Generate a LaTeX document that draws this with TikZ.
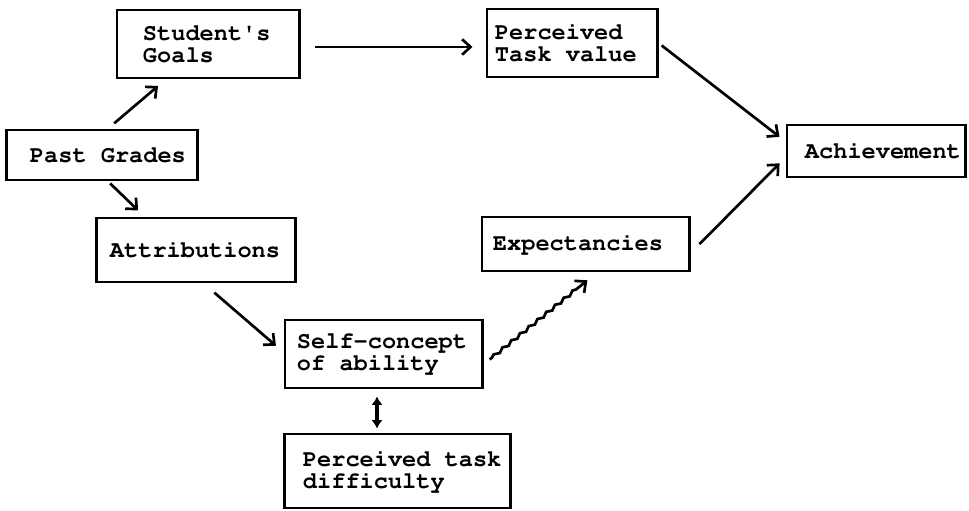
\documentclass[tikz,border=0pt]{standalone}
\usepackage[T1]{fontenc}
\usepackage{fontspec}
\usetikzlibrary{arrows.meta,calc,decorations.pathmorphing}

\newcommand\crfont{\fontencoding{T1}\fontfamily{pcr}\fontseries{b}\fontsize{16.8}{15.5}\selectfont}
\newcommand\nbs{\nobreak\hspace{0.6em}}

\begin{document}
\begin{tikzpicture}[x=0.025cm,y=-0.025cm,
  box/.style={draw,line width=2.1pt,align=flush left,inner ysep=0pt,font=\crfont},
  arr/.style={line width=1.9pt,-{Straight Barb[length=6pt,width=11pt]}},
  dbl/.style={line width=2.8pt,{Latex[length=6pt,width=8pt]}-{Latex[length=6pt,width=8pt]}}]

\useasboundingbox (0,0) rectangle (969,511);

\node[box,text width=3.25cm,inner xsep=0.65cm,minimum height=1.7cm] (goals) at (208,44) {Student\textquotesingle s\\Goals};
\node[box,text width=3.6cm,inner xsep=0.575cm,minimum height=1.25cm] (past) at (102,155) {Past\nbs Grades};
\node[box,text width=4.3cm,inner xsep=0.325cm,minimum height=1.6cm] (attr) at (196,250) {Attributions};
\node[box,text width=3.85cm,inner xsep=0.2cm,minimum height=1.7cm] (tval) at (572,43) {Perceived\\Task\nbs value};
\node[box,text width=3.55cm,inner xsep=0.45cm,minimum height=1.3cm] (ach) at (876,151) {Achievement};
\node[box,text width=4.625cm,inner xsep=0.275cm,minimum height=1.35cm] (expt) at (585.5,244) {Expectancies};
\node[box,text width=4.325cm,inner xsep=0.3cm,minimum height=1.7cm] (self) at (383.5,354) {Self-concept\\of\nbs ability};
\node[box,text width=4.725cm,inner xsep=0.45cm,minimum height=1.85cm] (diff) at (397.5,471) {Perceived\nbs task\\difficulty};

\draw[arr,shorten <=0.35cm,shorten >=0.325cm] ($(goals.east)+(0,3)$) -- ($(tval.west)+(0,4)$);
\draw[arr,shorten <=0.2cm,shorten >=0.25cm] (past.77) -- (goals.220);
\draw[arr,shorten <=0.07cm,shorten >=0.22cm] (past.-77) -- (attr.147);
\draw[arr,shorten <=0.35cm,shorten >=0.25cm] (attr.-77) -- (self.179);
\draw[arr,decorate,decoration={snake,amplitude=1pt,segment length=8pt,pre length=2pt,post length=8pt}]
  ($(self.-6)!0.2cm!(expt.-68)$) -- ($(expt.-68)!0.31cm!(self.-6)$);
\draw[arr,shorten <=0.1cm,shorten >=0.19cm] (tval.east) -- (ach.174);
\draw[arr,shorten <=0.32cm,shorten >=0.21cm] (expt.-5) -- (ach.184);
\draw[dbl,shorten <=0.175cm,shorten >=0.1cm] ($(self.south)+(-6.5,0)$) -- ($(self.south |- diff.north)+(-6.5,0)$);

\end{tikzpicture}
\end{document}
